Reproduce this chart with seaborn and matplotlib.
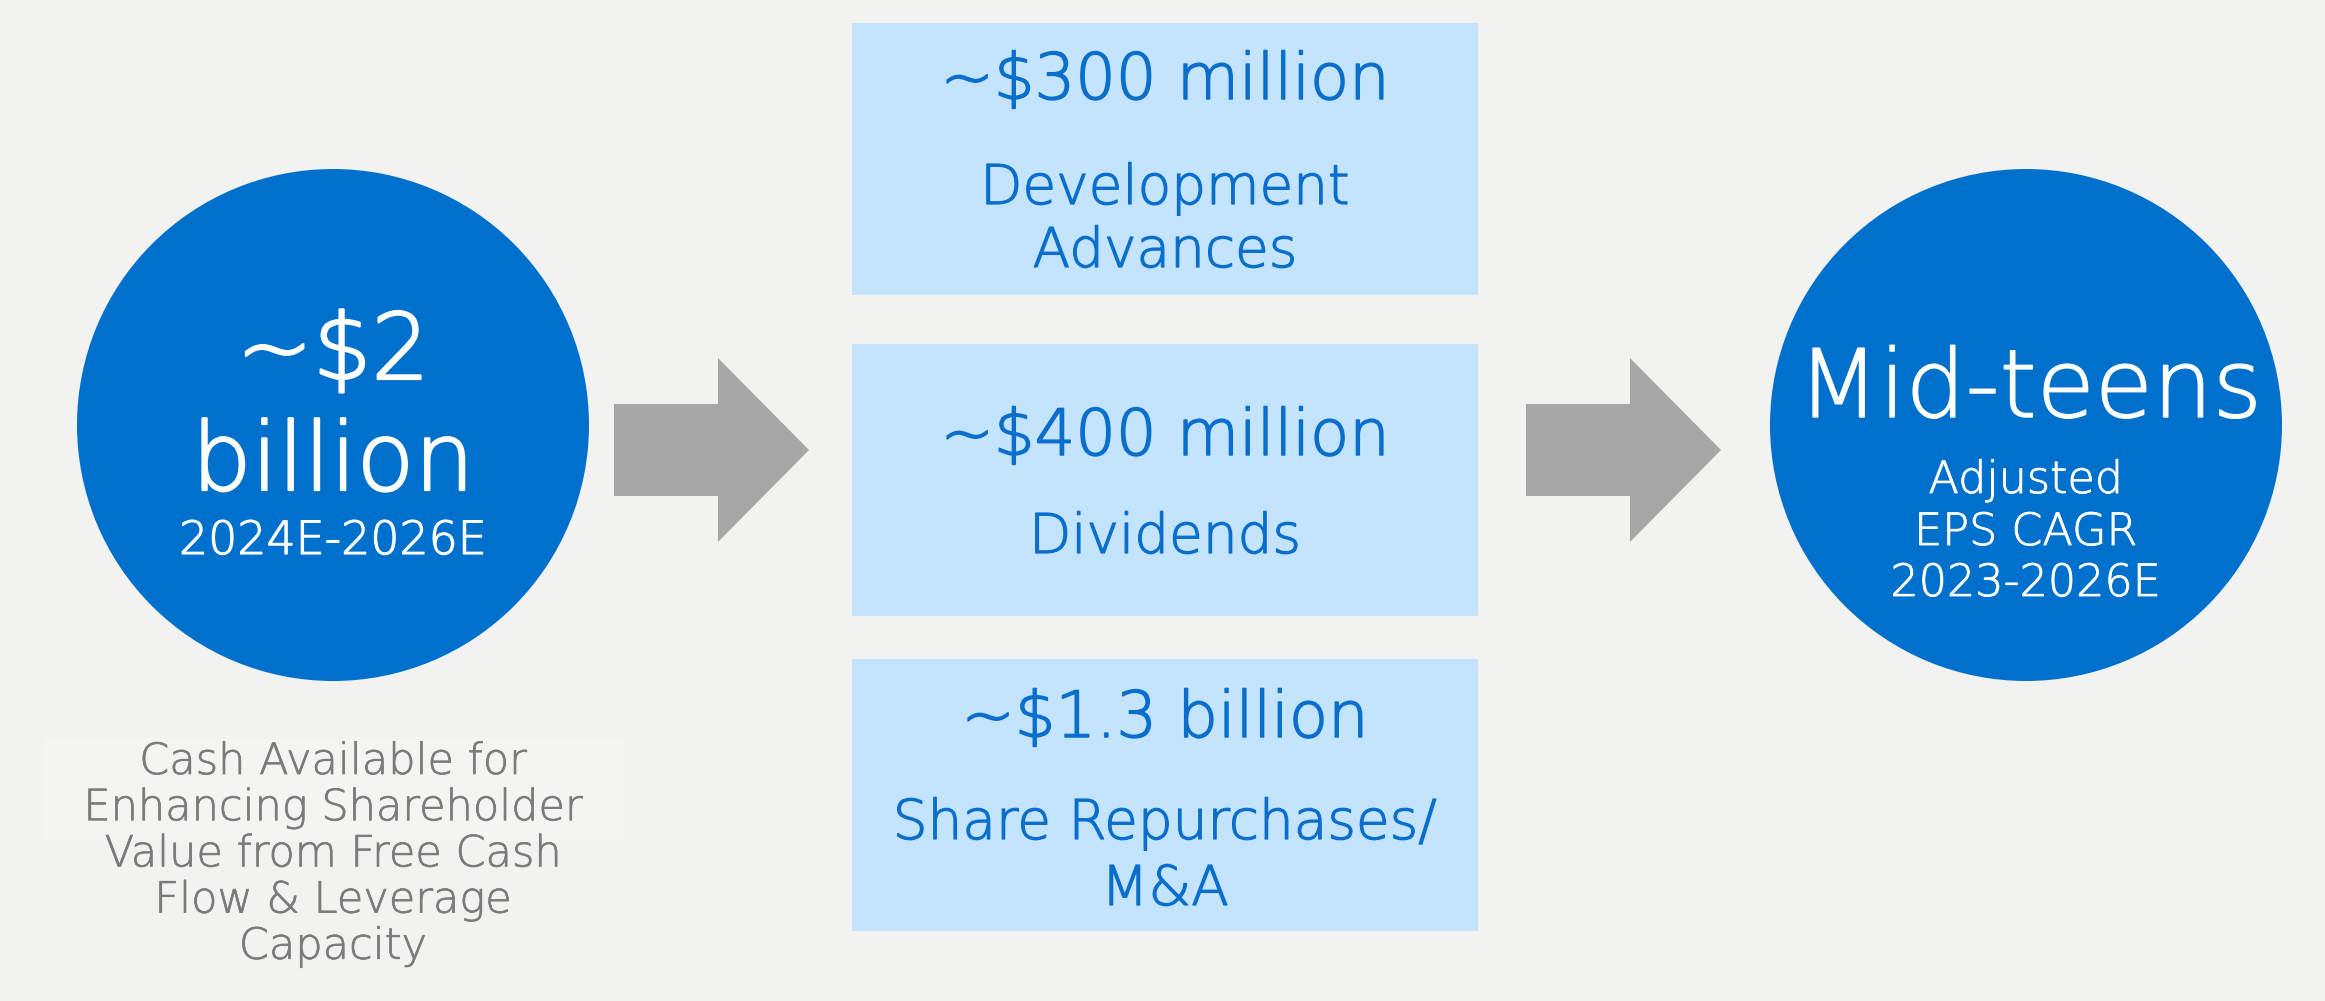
import seaborn as sns
import matplotlib.pyplot as plt
import matplotlib.patheffects as pe
from matplotlib.patches import Circle, Rectangle, Polygon

# Styling
sns.set_theme(style="white")
plt.rcParams["font.family"] = ["DejaVu Sans"]
plt.rcParams["font.weight"] = "light"

# Content
source_amount = ["~$2", "billion"]
source_period = "2024E-2026E"
source_note = ["Cash Available for", "Enhancing Shareholder", "Value from Free Cash",
               "Flow & Leverage", "Capacity"]
use_amounts = ["~$300 million", "~$400 million", "~$1.3 billion"]
use_labels = [["Development", "Advances"], ["Dividends"], ["Share Repurchases/", "M&A"]]
result_value = "Mid-teens"
result_label = ["Adjusted", "EPS CAGR", "2023-2026E"]

BG = "#F2F2F1"
BLUE = "#0070CD"
BOX = "#C4E3FC"
BOX_TEXT = "#0A6FCC"
ARROW = "#A6A6A6"
NOTE = "#7B7B7B"

W, H = 2325, 1001
fig = plt.figure(figsize=(W / 100, H / 100), dpi=100, facecolor=BG)
ax = fig.add_axes([0, 0, 1, 1])
ax.set_facecolor(BG)
ax.set_xlim(0, W)
ax.set_ylim(H, 0)
ax.axis("off")


def label(x, y, s, color, size, bold):
    # thin font thickened a bit with an outline stroke
    ax.text(x, y, s, color=color, fontsize=size, ha="center", va="baseline",
            path_effects=[pe.withStroke(linewidth=bold, foreground=color)])


# left circle
ax.add_patch(Circle((333, 425), 256, color=BLUE, lw=0))
label(333, 379, source_amount[0], "white", 66, 1.6)
label(333, 490, source_amount[1], "white", 68, 1.6)
label(333, 554, source_period, "white", 33, 0.8)

# note under the circle
ax.add_patch(Rectangle((44, 738), 579, 103, color="#F4F4F3", lw=0))
for i, line in enumerate(source_note):
    label(333, 774 + i * 46.2, line, NOTE, 31, 0.5)


def arrow(x0):
    pts = [(x0, 404), (x0 + 104, 404), (x0 + 104, 358), (x0 + 195, 450),
           (x0 + 104, 542), (x0 + 104, 496), (x0, 496)]
    ax.add_patch(Polygon(pts, closed=True, color=ARROW, lw=0))


arrow(614)
arrow(1526)

# boxes with uses of cash
box_top = [23, 344, 659]
box_h = 272
amount_base = [99, 455, 737]
label_base = [[204, 267], [553], [839, 905]]
for top, amt, labels, ab, lbs in zip(box_top, use_amounts, use_labels, amount_base, label_base):
    ax.add_patch(Rectangle((852, top), 626, box_h, color=BOX, lw=0))
    label(1165, ab, amt, BOX_TEXT, 46, 1.1)
    for lab, y in zip(labels, lbs):
        label(1165, y, lab, BOX_TEXT, 39.5, 0.9)

# right circle
ax.add_patch(Circle((2026, 425), 256, color=BLUE, lw=0))
label(2030, 417, result_value, "white", 68, 1.0)
for line, y in zip(result_label, [493, 545, 596]):
    label(2026, y, line, "white", 32, 0.6)

plt.savefig("out.png", dpi=100, facecolor=BG)
plt.close()
